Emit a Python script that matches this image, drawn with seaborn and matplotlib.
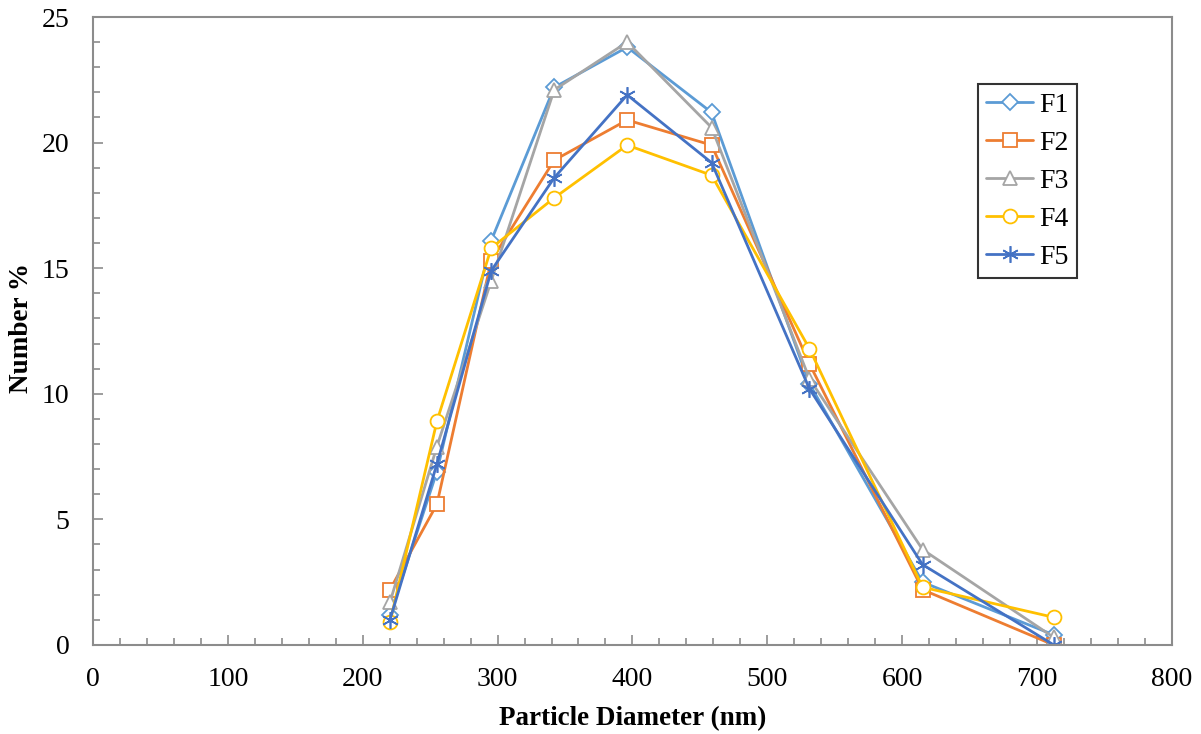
import matplotlib
matplotlib.use("Agg")
import matplotlib.pyplot as plt
import seaborn as sns
import pandas as pd
from matplotlib.ticker import MultipleLocator

diameter = [220.2, 255.0, 295.3, 342.0, 396.1, 458.7, 531.2, 615.1, 712.4]
F1 = [1.2, 6.9, 16.1, 22.2, 23.8, 21.2, 10.4, 2.5, 0.4]
F2 = [2.2, 5.6, 15.3, 19.3, 20.9, 19.9, 11.2, 2.2, 0.0]
F3 = [1.7, 7.9, 14.5, 22.1, 24.0, 20.6, 10.6, 3.8, 0.3]
F4 = [0.9, 8.9, 15.8, 17.8, 19.9, 18.7, 11.8, 2.3, 1.1]
F5 = [1.0, 7.2, 14.9, 18.6, 21.9, 19.2, 10.2, 3.2, 0.0]
series_names = ["F1", "F2", "F3", "F4", "F5"]

sns.set_theme(style="white")
plt.rcParams["font.family"] = ["Liberation Serif", "DejaVu Serif"]
plt.rcParams["text.color"] = "black"
plt.rcParams["axes.labelcolor"] = "black"
plt.rcParams["xtick.labelcolor"] = "black"
plt.rcParams["ytick.labelcolor"] = "black"

colors = {"F1": "#5B9BD5", "F2": "#ED7D31", "F3": "#A5A5A5", "F4": "#FFC000", "F5": "#4472C4"}
markers = {"F1": "D", "F2": "s", "F3": "^", "F4": "o", "F5": (6, 2, 0)}
msizes = {"F1": 8.5, "F2": 10, "F3": 10, "F4": 10, "F5": 12}

fig = plt.figure(figsize=(12.01, 7.34), dpi=100)
ax = fig.add_axes([0.0774, 0.1213, 0.8984, 0.8555])

data = dict(zip(series_names, [F1, F2, F3, F4, F5]))
for name in series_names:
    df = pd.DataFrame({"x": diameter, "y": data[name]})
    m = markers[name]
    kw = dict(markerfacecolor="white", markeredgecolor=colors[name], markeredgewidth=1.3)
    if name == "F5":
        kw = dict(markeredgecolor=colors[name], markeredgewidth=1.2)
    sns.lineplot(data=df, x="x", y="y", ax=ax, color=colors[name], linewidth=2,
                 marker=m, markersize=msizes[name], label=name, **kw)

ax.set_xlim(0, 800)
ax.set_ylim(0, 25)
ax.xaxis.set_major_locator(MultipleLocator(100))
ax.xaxis.set_minor_locator(MultipleLocator(20))
ax.yaxis.set_major_locator(MultipleLocator(5))
ax.yaxis.set_minor_locator(MultipleLocator(1))
ax.tick_params(which="both", direction="in", color="#8c8c8c", width=1.2,
               bottom=True, left=True, top=False, right=False)
ax.tick_params(which="major", length=7, labelsize=20)
ax.tick_params(which="minor", length=5)
ax.tick_params(axis="x", which="major", pad=16)
ax.tick_params(axis="y", which="major", pad=17)
for s in ax.spines.values():
    s.set_color("#8c8c8c")
    s.set_linewidth(1.5)

ax.set_xlabel("Particle Diameter (nm)", fontsize=19.5, fontweight="bold", labelpad=10)
ax.set_ylabel("Number %", fontsize=19.5, fontweight="bold", va="center")
ax.yaxis.set_label_coords(-0.066, 0.505)

leg = ax.legend(loc="upper left", bbox_to_anchor=(0.820, 0.893), fontsize=20,
                frameon=True, fancybox=False, edgecolor="black", handlelength=1.7,
                borderpad=0.3, labelspacing=0.45, handletextpad=0.2, borderaxespad=0)
leg.get_frame().set_linewidth(1.5)

fig.savefig("out.png", dpi=100)
